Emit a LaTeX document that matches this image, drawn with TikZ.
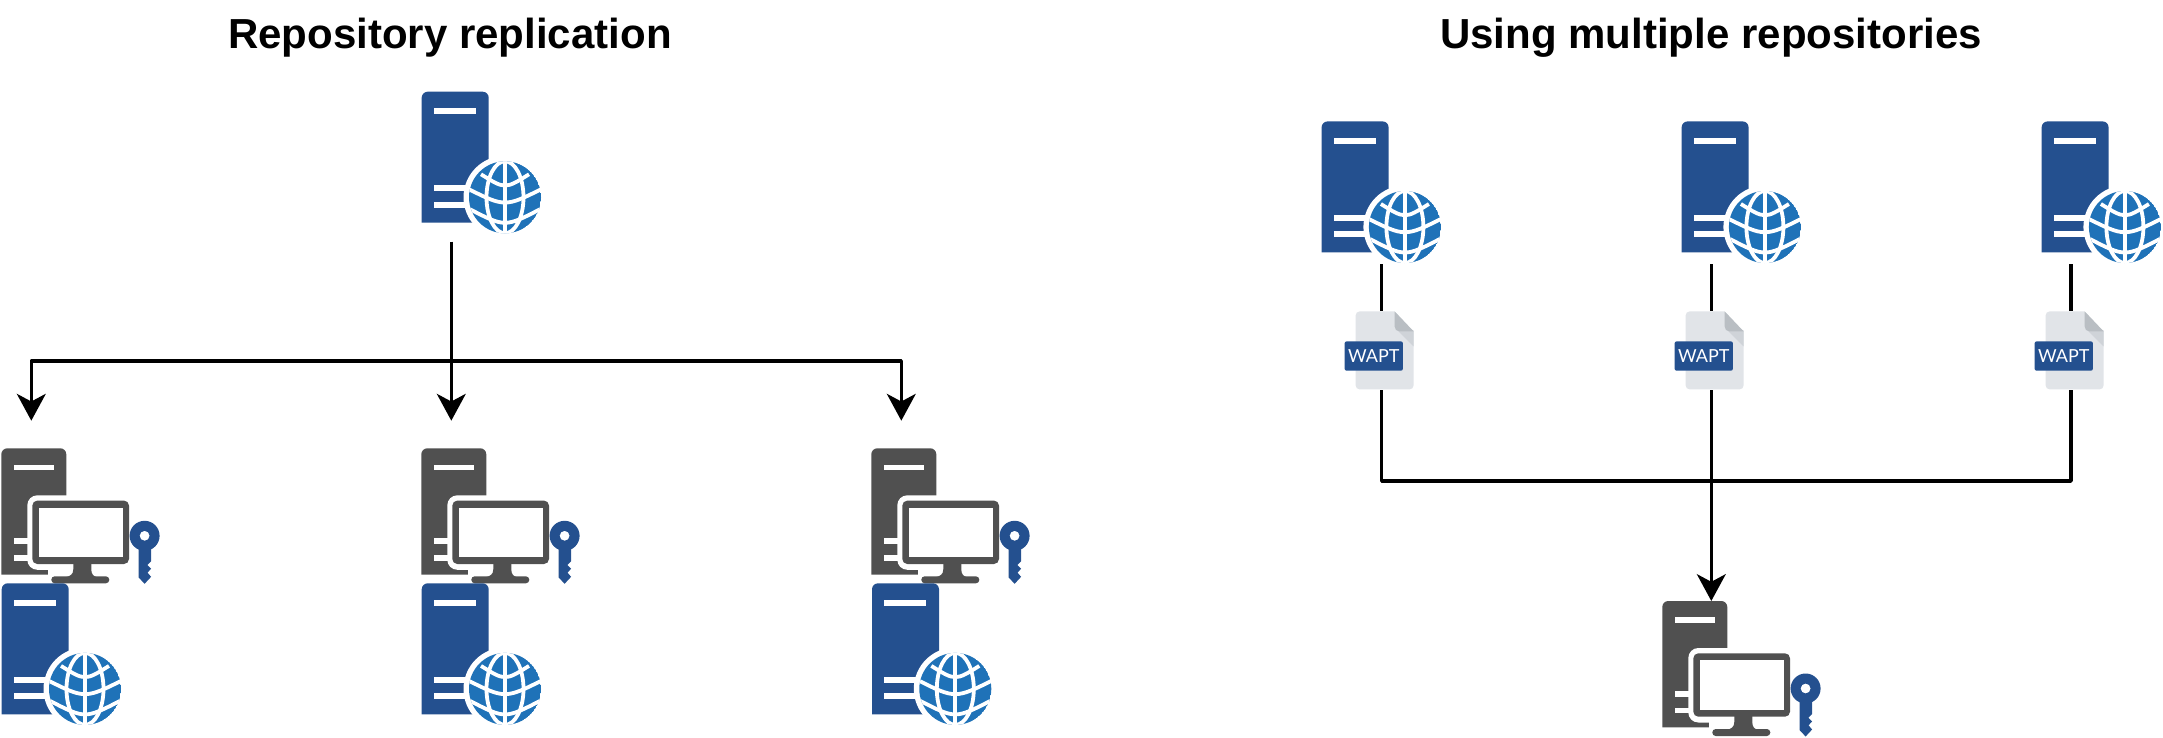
\documentclass[tikz,border=0pt]{standalone}
\usepackage{fontspec}
\setmainfont{Liberation Sans}
\newfontfamily\labelfont{Lato}
\usetikzlibrary{arrows.meta,calc}
\definecolor{srvblue}{HTML}{24508F}
\definecolor{globeblue}{HTML}{1F72B8}
\definecolor{wsgrey}{HTML}{505050}
\definecolor{pagegrey}{HTML}{E1E4E8}
\definecolor{foldgrey}{HTML}{B9BEC3}
\definecolor{shadegrey}{HTML}{CFD3D8}
\tikzset{
  titletext/.style={anchor=base,font=\bfseries\fontsize{21pt}{25pt}\selectfont,text=black,inner sep=0pt},
  link/.style={draw=black,line width=1.7pt,line join=round},
  arrowlink/.style={link,-{Stealth[length=13.4pt,width=14.4pt,inset=3.8pt]}},
  filebox/.style={rectangle,minimum width=29pt,minimum height=39pt,inner sep=0pt},
  servericon/.pic={
    \fill[srvblue] (0,131) [rounded corners=3pt] -- (0,0) -- (67,0) [sharp corners] -- (67,131) -- cycle;
    \fill[white] (12.3,16.6) rectangle (54.3,22.3);
    \fill[white] (12.3,93.3) rectangle (55,99.3);
    \fill[white] (12.3,110) rectangle (55,116);
    \fill[white] (83.3,105.6) circle[radius=41.5];
    \begin{scope}
      \clip (83.3,105.6) circle[radius=36];
      \fill[globeblue] (83.3,105.6) circle[radius=36];
      \begin{scope}[shift={(83.3,105.6)},draw=white,line width=1.9pt]
        \draw (0,-40) -- (0,40);
        \draw (0,0) ellipse[x radius=18.5,y radius=36];
        \draw (-24,-23) .. controls (0,-8) .. (24,-23);
        \draw (-38,-9) .. controls (0,10) .. (38,-9);
        \draw (-35,12) .. controls (0,30) .. (35,12);
      \end{scope}
    \end{scope}
  },
  worksicon/.pic={
    \fill[wsgrey] (0,126.3) [rounded corners=3pt] -- (0,0) -- (65,0) [sharp corners] -- (65,126.3) -- cycle;
    \fill[white] (12.7,16.3) rectangle (52.7,21.7);
    \fill[white] (12.7,90) rectangle (30,95.7);
    \fill[white] (12.7,106.7) rectangle (30,112.3);
    \fill[white,rounded corners=5pt] (26,47) rectangle (134,121.5);
    \fill[white] (47,115) rectangle (67,128);
    \fill[wsgrey,rounded corners=2.5pt] (31,52.3) rectangle (127.7,115.7);
    \fill[white] (38,59.3) rectangle (121.7,109);
    \fill[wsgrey] (72,115) -- (72,121) .. controls (72,126) and (69,128) .. (64,129) -- (96,129) .. controls (92,128) and (90,126) .. (90,121) -- (90,115) -- cycle;
    \fill[wsgrey,rounded corners=1.7pt] (50,128) rectangle (108,135);
    \fill[srvblue,even odd rule] (143.3,87.5) circle[radius=15] (143.3,87.5) circle[radius=5];
    \fill[srvblue] (137.2,98) -- (149.8,98) -- (149.8,113) -- (146,116.7) -- (149.8,120.5) -- (146.2,124.3) -- (149.8,128.5) -- (143.3,135.5) -- (137.2,129) -- cycle;
  },
  filemark/.pic={
    \fill[pagegrey] (39,0) [rounded corners=2pt] -- (0,0) -- (0,78) -- (58,78) [sharp corners] -- (58,20) -- cycle;
    \fill[shadegrey] (42,19) -- (58,35) -- (58,19) -- cycle;
    \fill[foldgrey] (39,0) -- (58,20) -- (44,20) .. controls (41,20) and (39,18) .. (39,15) -- cycle;
    \fill[srvblue,rounded corners=1pt] (-11,30) rectangle (47.3,59.3);
    \node[text=white,inner sep=0pt,font=\labelfont\fontsize{9pt}{10pt}\selectfont] (-lbl) at (18.2,44.6) {WAPT};
  }
}
\begin{document}
\begin{tikzpicture}[x=0.5pt,y=-0.5pt]
\useasboundingbox (0,0) rectangle (2163,738);
% titles
\node[titletext] (t1) at (450,48.3) {Repository replication};
\node[titletext] (t2) at (1711,48.3) {Using multiple repositories};
% left: servers and workstations
\pic at (421.7,91.7) {servericon};
\pic at (1.3,448.3) {worksicon};
\pic at (421.3,448.3) {worksicon};
\pic at (871.3,448.3) {worksicon};
\pic at (1.7,583.3) {servericon};
\pic at (421.7,583.3) {servericon};
\pic at (872,583.3) {servericon};
% left: connectors
\coordinate (rs) at (451.3,241.5);
\coordinate (bus) at (451.3,361);
\coordinate (wa) at (31.3,420.7);
\coordinate (wb) at (451.3,420.7);
\coordinate (wc) at (901.3,420.7);
\draw[arrowlink] (rs) -- (wb);
\draw[arrowlink] (bus) -| (wa);
\draw[arrowlink] (bus) -| (wc);
% right: servers
\pic at (1321.6,121.4) {servericon};
\pic at (1681.6,121.4) {servericon};
\pic at (2041.6,121.4) {servericon};
\pic at (1662.3,601) {worksicon};
% right: connectors
\node[filebox] (f1) at (1385,350.8) {};
\node[filebox] (f2) at (1715,350.8) {};
\node[filebox] (f3) at (2075,350.8) {};
\coordinate (o1) at (1381.7,264);
\coordinate (o2) at (1711.3,264);
\coordinate (o3) at (2071,264);
\coordinate (j) at (1711.3,481);
\coordinate (wd) at (1711.3,601);
\draw[link] (o1) -- (o1 |- f1.north);
\draw[link] (o2) -- (o2 |- f2.north);
\draw[link] (o3) -- (o3 |- f3.north);
\draw[link] (o1 |- f1.south) |- (j);
\draw[link] (o3 |- f3.south) |- (j);
\draw[arrowlink] (o2 |- f2.south) -- (wd);
\pic at (f1.north west) {filemark};
\pic at (f2.north west) {filemark};
\pic at (f3.north west) {filemark};
\end{tikzpicture}
\end{document}
